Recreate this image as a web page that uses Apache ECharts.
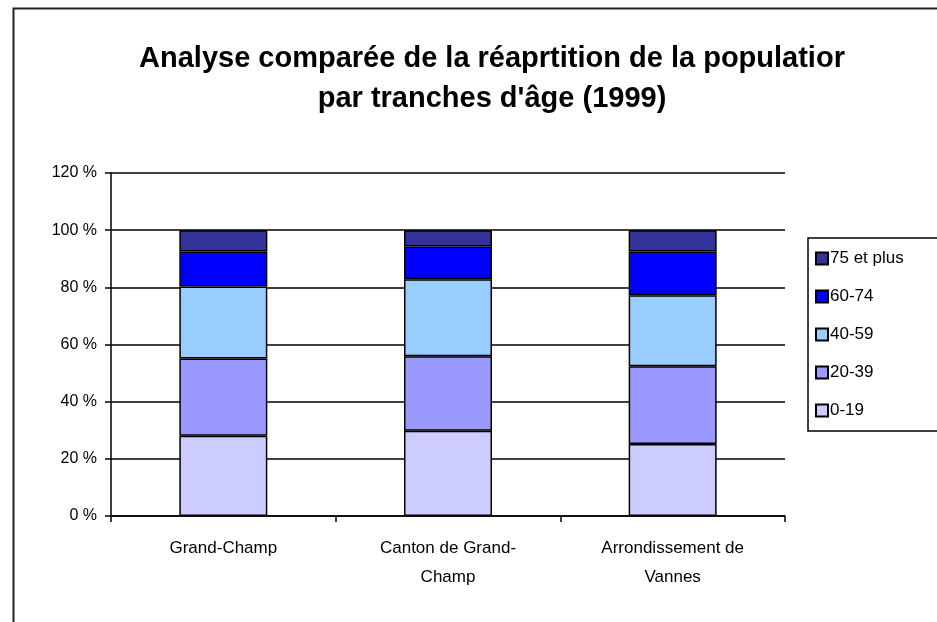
<!DOCTYPE html>
<html>
<head>
<meta charset="utf-8">
<script src="https://cdn.jsdelivr.net/npm/echarts@6/dist/echarts.min.js"></script>
<style>
  html, body { margin: 0; padding: 0; background: #fff; }
  #chart { width: 937px; height: 622px; }
</style>
</head>
<body>
<div id="chart"></div>
<script>
// Categories and stacked shares (%) per age group
const categories = ['Grand-Champ', 'Canton de Grand-\nChamp', 'Arrondissement de\nVannes'];
const ageGroups = ['0-19', '20-39', '40-59', '60-74', '75 et plus'];
const age0to19 = [28.1, 29.8, 25.2];
const age20to39 = [27.0, 26.1, 27.2];
const age40to59 = [25.2, 26.9, 24.8];
const age60to74 = [12.2, 11.5, 15.3];
const age75plus = [7.5, 5.7, 7.5];
const yTicks = [0, 20, 40, 60, 80, 100, 120];

const seriesValues = [age0to19, age20to39, age40to59, age60to74, age75plus];
const colors = ['#ccccff', '#9999ff', '#99ccff', '#0000ff', '#333399'];

const chart = echarts.init(document.getElementById('chart'));

const fontFamily = 'Liberation Sans, Arial, sans-serif';

chart.setOption({
    animation: false,
    textStyle: { fontFamily: fontFamily },
    title: {
        text: 'Analyse comparée de la réaprtition de la populatior\npar tranches d\'âge (1999)',
        left: 487,
        textAlign: 'center',
        top: 34,
        textStyle: {
            fontFamily: fontFamily,
            fontSize: 29,
            fontWeight: 'bold',
            color: '#000',
            lineHeight: 40
        }
    },
    legend: {
        orient: 'vertical',
        left: 808,
        top: 238,
        data: ageGroups.slice().reverse(),
        icon: 'rect',
        itemWidth: 12,
        itemHeight: 12,
        itemGap: 21,
        padding: [12, 40, 12, 7],
        borderColor: '#000',
        borderWidth: 1.5,
        textStyle: { fontSize: 17, color: '#000', padding: [0, 0, 0, -3] }
    },
    grid: {
        left: 111,
        right: 152,
        top: 173,
        bottom: 106,
        containLabel: false
    },
    xAxis: {
        type: 'category',
        data: categories,
        axisLine: { lineStyle: { color: '#000', width: 1.5 } },
        axisTick: { show: true, length: 6, lineStyle: { color: '#000', width: 1.5 } },
        axisLabel: {
            color: '#000',
            fontSize: 17,
            margin: 18,
            lineHeight: 29
        }
    },
    yAxis: {
        type: 'value',
        min: yTicks[0],
        max: yTicks[yTicks.length - 1],
        interval: 20,
        axisLine: { show: true, lineStyle: { color: '#000', width: 1.5 } },
        axisTick: { show: true, length: 6, lineStyle: { color: '#000', width: 1.5 } },
        axisLabel: {
            color: '#000',
            fontSize: 16,
            margin: 14,
            formatter: '{value} %'
        },
        splitLine: { show: true, lineStyle: { color: '#000', width: 1.5 } }
    },
    series: ageGroups.map((name, i) => ({
        name: name,
        type: 'bar',
        stack: 'total',
        barWidth: 88,
        data: seriesValues[i],
        itemStyle: {
            color: colors[i],
            borderColor: '#000',
            borderWidth: 1.5
        }
    })),
    graphic: [{
        type: 'rect',
        left: 11,
        top: 6,
        shape: { width: 1000, height: 1000 },
        style: { fill: 'none', stroke: '#222', lineWidth: 2 },
        silent: true
    }]
});

window.addEventListener('resize', () => {
    chart.resize();
});
</script>
</body>
</html>
